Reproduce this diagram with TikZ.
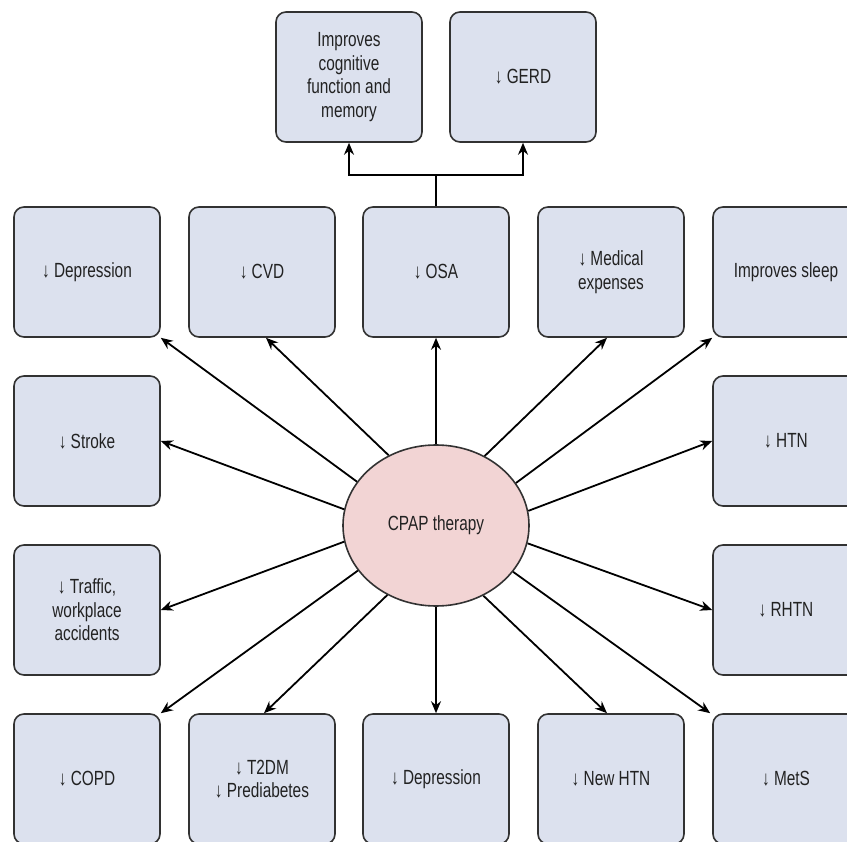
\documentclass[tikz,border=0pt]{standalone}
\usepackage{fontspec}
\setmainfont{Liberation Sans}[FakeStretch=0.75]
\usetikzlibrary{arrows.meta,shapes.geometric}
\definecolor{boxfill}{RGB}{220,225,238}
\definecolor{ellfill}{RGB}{242,212,212}
\definecolor{edge}{RGB}{50,50,50}
\definecolor{txt}{RGB}{34,34,34}
\begin{document}
\begin{tikzpicture}[x=1pt,y=-1pt,
  box/.style={draw=edge,line width=1.6pt,fill=boxfill,rounded corners=10pt,
    minimum width=146pt,minimum height=130pt,inner sep=2pt,align=center,
    text=txt,font=\fontsize{20.5}{23.5}\selectfont},
  oval/.style={ellipse,draw=edge,line width=1.6pt,fill=ellfill,
    minimum width=186pt,minimum height=161pt,inner sep=0pt,text=txt,
    font=\fontsize{20.5}{23.5}\selectfont},
  conn/.style={line width=1.8pt,black,-{Stealth[length=12pt,width=10pt]}},
  plain/.style={line width=1.8pt,black}]
\useasboundingbox (0,0) rectangle (847,842);
\clip (0,0) rectangle (847,842);
% top boxes
\node[box] (cog) at (349,77) {Improves\\cognitive\\function and\\memory};
\node[box] (gerd) at (523,77) {↓ GERD};
% row 1
\node[box] (dep1) at (87,272) {↓ Depression};
\node[box] (cvd) at (262,272) {↓ CVD};
\node[box] (osa) at (436,272) {↓ OSA};
\node[box] (med) at (611,272) {↓ Medical\\expenses};
\node[box] (sleep) at (786,272) {Improves sleep};
% row 2
\node[box] (stroke) at (87,441) {↓ Stroke};
\node[box] (htn) at (786,441) {↓ HTN};
% row 3
\node[box] (traffic) at (87,610) {↓ Traffic,\\workplace\\accidents};
\node[box] (rhtn) at (786,610) {↓ RHTN};
% row 4
\node[box] (copd) at (87,779) {↓ COPD};
\node[box] (t2dm) at (262,779) {↓ T2DM\\↓ Prediabetes};
\node[box] (dep2) at (436,779) {↓ Depression};
\node[box] (newhtn) at (611,779) {↓ New HTN};
\node[box] (mets) at (786,779) {↓ MetS};
% centre
\node[oval] (cpap) at (436,525.5) {CPAP therapy};
% junction to top boxes
\coordinate (j) at (436,175);
\draw[plain] (osa.north) -- (j);
\draw[conn] (j) -| (cog.south);
\draw[conn] (j) -| (gerd.south);
% spokes
\draw[conn] (cpap.90) -- (osa.south);
\draw[conn] (cpap.124.8) -- ([xshift=4pt]cvd.south);
\draw[conn] (cpap.151.2) -- (dep1.south east);
\draw[conn] (cpap.170.5) -- (stroke.east);
\draw[conn] (cpap.190.7) -- (traffic.east);
\draw[conn] (cpap.210.5) -- (copd.north east);
\draw[conn] (cpap.235.6) -- ([xshift=2pt]t2dm.north);
\draw[conn] (cpap.270) -- (dep2.north);
\draw[conn] (cpap.55.2) -- ([xshift=-4pt]med.south);
\draw[conn] (cpap.28.8) -- (sleep.south west);
\draw[conn] (cpap.9.5) -- (htn.west);
\draw[conn] (cpap.349.3) -- (rhtn.west);
\draw[conn] (cpap.329.5) -- ([xshift=-2pt]mets.north west);
\draw[conn] (cpap.304.4) -- ([xshift=-4pt]newhtn.north);
\end{tikzpicture}
\end{document}
